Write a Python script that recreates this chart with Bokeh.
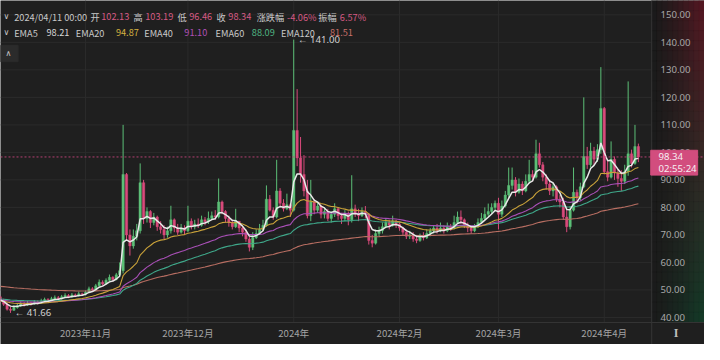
import pandas as pd
from bokeh.plotting import figure
from bokeh.models import Range1d
from bokeh.core.properties import value
from bokeh.embed import file_html
from bokeh.resources import INLINE

# ---------------- data ----------------
start_date = "2023-10-07"
end_date = "2024-04-11"

opens = [47.5, 46.0, 44.8, 43.0, 42.6, 43.6, 44.2, 45.0, 44.5, 45.3, 44.9, 45.6, 45.2, 46.0, 46.5, 46.1, 46.8, 47.2, 46.7, 47.5, 48.0, 47.4, 48.2, 47.8, 48.6,
         48.3, 49.2, 50.4, 50.0, 51.5, 52.8, 52.2, 53.5, 54.6, 53.8, 55.5,
         57.0, 92.0, 70.0, 66.0, 69.5, 71.5, 89.0, 76.0, 78.5, 74.5,
         76.5, 73.0, 72.0, 70.0, 71.5, 75.5, 72.5, 71.0, 72.5, 71.5,
         75.0, 73.0, 74.0, 73.5, 75.5, 74.8, 76.0, 77.0, 76.5, 82.0,
         78.5, 76.0, 74.5, 73.0, 75.0, 72.5, 71.0, 68.5, 65.5, 69.0,
         70.5, 72.0, 73.5, 83.0, 79.0, 76.5, 86.0, 81.5, 79.5, 81.0,
         79.0, 108.0, 98.0, 92.0, 86.0, 77.0, 82.0, 79.0, 80.5, 77.5,
         78.5, 76.0, 77.5, 79.5, 77.0, 76.0, 77.5, 75.5, 79.5, 78.0,
         77.0, 78.5, 77.5, 68.0, 67.0, 70.5, 71.5, 73.0, 74.5, 73.5,
         75.0, 74.0, 72.5, 71.0, 69.5, 70.0, 68.5, 68.0, 69.5, 69.0,
         70.5, 71.5, 72.5, 71.5, 72.5, 71.5, 73.0, 72.5, 74.5, 76.5,
         75.5, 73.5, 72.5, 71.5, 73.0, 74.5, 76.0, 77.5, 78.5, 80.0,
         81.5, 77.5, 80.5, 84.5, 88.0, 90.0, 85.5, 88.5, 86.0, 89.5,
         92.0, 91.0, 99.5, 95.5, 91.0, 88.5, 86.0, 87.5, 83.0, 82.0,
         76.5, 73.0, 79.0, 85.5, 83.5, 87.5, 98.5, 95.5, 100.5, 97.5,
         101.0, 116.0, 93.0, 91.0, 97.5, 92.5, 90.5, 89.5, 93.0, 99.5, 96.0, 102.13]

highs = [48.0, 46.8, 45.5, 43.8, 44.5, 45.0, 45.8, 45.6, 46.0, 45.8, 46.3, 46.2, 46.8, 47.2, 47.0, 47.5, 48.0, 47.8, 48.2, 48.8, 48.5, 48.9, 48.7, 49.4, 49.0,
         49.8, 51.2, 51.0, 52.2, 53.8, 53.5, 54.2, 55.6, 55.0, 56.2, 60.0,
         110.0, 92.5, 72.0, 72.0, 74.0, 96.0, 90.0, 80.0, 79.0, 78.0,
         77.0, 75.0, 73.5, 73.0, 80.6, 76.0, 74.0, 74.0, 73.5, 80.6,
         76.0, 75.5, 76.0, 77.0, 76.5, 78.5, 78.5, 79.0, 90.5, 82.5,
         79.0, 77.0, 75.5, 79.5, 75.0, 73.0, 72.0, 69.5, 71.0, 72.0,
         74.0, 75.5, 88.0, 84.5, 80.0, 97.3, 87.0, 83.0, 85.0, 81.5,
         141.0, 123.0, 105.6, 99.0, 90.0, 90.0, 83.0, 82.0, 81.0, 80.0,
         79.5, 78.5, 81.5, 80.0, 78.0, 79.0, 78.5, 91.7, 81.0, 79.5,
         80.0, 80.5, 78.0, 70.0, 72.0, 73.0, 74.5, 76.0, 75.5, 77.0,
         75.5, 74.5, 73.0, 72.0, 71.5, 71.0, 70.0, 70.5, 71.0, 72.0,
         72.5, 73.5, 74.0, 74.5, 73.5, 74.5, 74.0, 77.0, 78.5, 78.9,
         76.0, 74.5, 73.5, 74.0, 76.0, 78.0, 80.0, 81.4, 81.5, 82.5,
         83.5, 82.5, 86.0, 94.5, 94.5, 91.0, 90.5, 89.5, 92.0, 97.3,
         93.5, 104.6, 103.5, 96.5, 92.0, 90.0, 89.0, 88.0, 84.5, 83.5,
         80.0, 80.5, 94.5, 86.5, 89.0, 120.0, 102.0, 103.5, 102.0, 103.0,
         131.0, 116.5, 97.0, 104.0, 98.5, 94.0, 93.5, 95.5, 125.8, 101.0, 110.0, 103.19]

lows = [45.5, 44.2, 42.5, 41.66, 42.4, 43.2, 43.8, 44.0, 44.2, 44.3, 44.6, 44.7, 45.0, 45.6, 45.6, 46.0, 46.5, 46.2, 46.5, 47.1, 47.0, 47.2, 47.4, 47.6, 47.8,
        48.0, 49.0, 49.5, 49.8, 51.2, 51.6, 52.0, 53.2, 53.2, 53.5, 55.0,
        56.0, 68.0, 62.5, 65.0, 68.0, 70.5, 74.0, 74.5, 72.5, 73.5,
        71.5, 70.5, 68.5, 69.0, 70.5, 71.0, 70.0, 70.5, 70.0, 71.0,
        72.0, 72.0, 72.5, 73.0, 73.5, 74.0, 75.5, 75.5, 76.0, 77.5,
        74.5, 73.0, 72.0, 72.5, 71.0, 69.5, 67.5, 64.0, 64.5, 68.5,
        70.0, 71.5, 73.0, 78.5, 75.5, 76.0, 80.0, 78.5, 79.0, 76.5,
        78.5, 95.0, 89.0, 84.0, 76.0, 75.0, 77.5, 78.0, 76.0, 76.0,
        75.0, 74.5, 76.5, 75.5, 74.0, 75.0, 73.5, 74.5, 76.5, 75.0,
        76.5, 76.0, 66.5, 65.5, 66.5, 69.5, 70.5, 72.5, 72.0, 73.0,
        72.5, 71.5, 70.0, 68.5, 68.5, 67.5, 67.0, 67.5, 68.0, 68.5,
        69.5, 70.5, 70.5, 71.0, 70.5, 71.0, 71.5, 72.0, 74.0, 74.0,
        72.5, 71.0, 70.5, 71.0, 72.5, 74.0, 75.5, 76.5, 77.5, 78.5,
        72.0, 76.5, 80.0, 83.5, 86.5, 84.0, 85.0, 84.5, 85.5, 88.5,
        89.5, 90.5, 94.5, 89.5, 86.5, 84.5, 84.0, 82.0, 80.0, 75.5,
        71.0, 72.0, 78.5, 81.5, 82.5, 87.0, 94.0, 94.5, 95.5, 96.5,
        99.5, 92.0, 89.5, 90.5, 90.0, 87.5, 86.0, 88.5, 91.5, 94.5, 95.5, 96.46]

closes = [46.0, 44.8, 43.0, 42.6, 43.6, 44.2, 45.0, 44.5, 45.3, 44.9, 45.6, 45.2, 46.0, 46.5, 46.1, 46.8, 47.2, 46.7, 47.5, 48.0, 47.4, 48.2, 47.8, 48.6, 48.3,
          49.2, 50.4, 50.0, 51.5, 52.8, 52.2, 53.5, 54.6, 53.8, 55.5, 57.0,
          92.0, 70.0, 66.0, 69.5, 71.5, 89.0, 76.0, 78.5, 74.5, 76.5,
          73.0, 72.0, 70.0, 71.5, 75.5, 72.5, 71.0, 72.5, 71.5, 75.0,
          73.0, 74.0, 73.5, 75.5, 74.8, 76.0, 77.0, 76.5, 82.0, 78.5,
          76.0, 74.5, 73.0, 75.0, 72.5, 71.0, 68.5, 65.5, 69.0, 70.5,
          72.0, 73.5, 83.0, 79.0, 76.5, 86.0, 81.5, 79.5, 81.0, 79.0,
          108.0, 98.0, 92.0, 86.0, 77.0, 82.0, 79.0, 80.5, 77.5, 78.5,
          76.0, 77.5, 79.5, 77.0, 76.0, 77.5, 75.5, 79.5, 78.0, 77.0,
          78.5, 77.5, 68.0, 67.0, 70.5, 71.5, 73.0, 74.5, 73.5, 75.0,
          74.0, 72.5, 71.0, 69.5, 70.0, 68.5, 68.0, 69.5, 69.0, 70.5,
          71.5, 72.5, 71.5, 72.5, 71.5, 73.0, 72.5, 74.5, 76.5, 75.5,
          73.5, 72.5, 71.5, 73.0, 74.5, 76.0, 77.5, 78.5, 80.0, 81.5,
          77.5, 80.5, 84.5, 88.0, 90.0, 85.5, 88.5, 86.0, 89.5, 92.0,
          91.0, 99.5, 95.5, 91.0, 88.5, 86.0, 87.5, 83.0, 82.0, 76.5,
          73.0, 79.0, 85.5, 83.5, 87.5, 98.5, 95.5, 100.5, 97.5, 101.0,
          116.0, 93.0, 91.0, 97.5, 92.5, 90.5, 89.5, 93.0, 99.5, 96.0, 102.13, 98.34]

ema_periods = [5, 20, 40, 60, 120]
ema_seeds = [46.5, 46.0, 46.3, 46.7, 51.4]          # EMA levels at the left edge
ema_names = ["EMA5", "EMA20", "EMA40", "EMA60", "EMA120"]
ema_values_shown = ["98.21", "94.87", "91.10", "88.09", "81.51"]

month_ticks = ["2023-11-01", "2023-12-01", "2024-01-01", "2024-02-01", "2024-03-01", "2024-04-01"]
month_labels = ["2023年11月", "2023年12月", "2024年", "2024年2月", "2024年3月", "2024年4月"]
price_ticks = [40, 50, 60, 70, 80, 90, 100, 110, 120, 130, 140, 150]

hdr_labels = ["2024/04/11 00:00", "开", "102.13", "高", "103.19", "低", "96.46", "收", "98.34",
              "涨跌幅", "-4.06%", "振幅", "6.57%"]
countdown = "02:55:24"

# ---------------- styling / layout ----------------
BG = "#1f1f1f"
GRID = "#2b2b2b"
UP = "#5cbf77"
DOWN = "#d94a7b"
TXT = "#c9c9c9"
PINK_TXT = "#d65a84"
EMA_LINE = ["#e9e9e9", "#c9a23a", "#a84fb6", "#3fa88a", "#b86e62"]
EMA_TXT = ["#d8d8d8", "#d4b040", "#b050b8", "#4fb482", "#c8706a"]
FONT = "Noto Sans CJK SC"
LFONT = "Noto Sans"

W, H = 704, 344

# layout helpers in reference pixels (Nov 1 at px 87, 3.49 px/day; 40 at px 331.7, 2.879 px/unit)
def dx(px):
    return (px - 87.0) / 3.49

def py(px):
    return 40.0 + (331.7 - px) / 2.879

X0, X1 = dx(0), dx(720)
Y0, Y1 = py(360), py(0)

ref_day = pd.Timestamp("2023-11-01")
dates = pd.date_range(start_date, end_date, freq="D")
xd = [(d - ref_day).days for d in dates]
tick_days = [(pd.Timestamp(t) - ref_day).days for t in month_ticks]

def ema(vals, n, seed):
    a = 2.0 / (n + 1)
    e = seed
    out = []
    for v in vals:
        e = e + a * (v - e)
        out.append(e)
    return out

p = figure(width=W, height=H, x_range=Range1d(X0, X1), y_range=Range1d(Y0, Y1),
           x_axis_location=None, y_axis_location=None, output_backend="svg", toolbar_location=None,
           min_border_left=0, min_border_right=0, min_border_top=0, min_border_bottom=0,
           background_fill_color=BG, border_fill_color=BG, outline_line_color=None)
p.grid.visible = False

panel_l = dx(666)
plot_bottom = py(337)

# grid lines
p.segment(x0=tick_days, y0=[plot_bottom] * len(tick_days), x1=tick_days, y1=[Y1] * len(tick_days),
          line_color=GRID, line_width=1)
p.segment(x0=[X0] * len(price_ticks), y0=price_ticks, x1=[panel_l] * len(price_ticks), y1=price_ticks,
          line_color=GRID, line_width=1)

# candles
up_x, up_o, up_h, up_l, up_c = [], [], [], [], []
dn_x, dn_o, dn_h, dn_l, dn_c = [], [], [], [], []
for x, o, h, l, c in zip(xd, opens, highs, lows, closes):
    h2, l2 = max(h, o, c), min(l, o, c)
    if c >= o:
        up_x.append(x); up_o.append(o); up_h.append(h2); up_l.append(l2); up_c.append(c)
    else:
        dn_x.append(x); dn_o.append(o); dn_h.append(h2); dn_l.append(l2); dn_c.append(c)

p.segment(x0=up_x, y0=up_l, x1=up_x, y1=up_h, line_color=UP, line_width=1)
p.segment(x0=dn_x, y0=dn_l, x1=dn_x, y1=dn_h, line_color=DOWN, line_width=1)
p.vbar(x=up_x, width=0.7, bottom=up_o, top=up_c, fill_color=UP, line_color=UP, line_width=0.4)
p.vbar(x=dn_x, width=0.7, bottom=dn_c, top=dn_o, fill_color=DOWN, line_color=DOWN, line_width=0.4)

# EMA lines (longest first so EMA5 is on top)
for n, seed, col in reversed(list(zip(ema_periods, ema_seeds, EMA_LINE))):
    p.line(xd, ema(closes, n, seed), line_color=col, line_width=1.5 if n == 5 else 1.1)

# right price panel (gradient background)
ncol, nrow = 10, 32
qx0, qx1, qy0, qy1, qc = [], [], [], [], []
for ci in range(ncol):
    s = (ci + 0.5) / ncol
    for ri in range(nrow):
        t = (ri + 0.5) / nrow  # 0 top -> 1 bottom
        tint = [(1 - t) * 62 + t * (-8), (1 - t) * (-4) + t * 34, (1 - t) * 8 + t * 14]
        k = s ** 1.4
        rgb = [int(max(0, min(255, 27 + k * v))) for v in tint]
        qx0.append(panel_l + (X1 - panel_l) * ci / ncol)
        qx1.append(panel_l + (X1 - panel_l) * (ci + 1) / ncol)
        qy1.append(Y1 - (Y1 - plot_bottom) * ri / nrow)
        qy0.append(Y1 - (Y1 - plot_bottom) * (ri + 1) / nrow)
        qc.append("#%02x%02x%02x" % tuple(rgb))
p.quad(left=qx0, right=qx1, bottom=qy0, top=qy1, fill_color=qc, line_color=qc, line_width=0.5)

# separators: panel divider and bottom axis line
p.segment(x0=[panel_l], y0=[Y0], x1=[panel_l], y1=[Y1], line_color="#353535", line_width=1)
p.segment(x0=[X0], y0=[plot_bottom], x1=[X1], y1=[plot_bottom], line_color="#353535", line_width=1)

# y labels in the panel
p.text(x=[dx(675)] * len(price_ticks), y=price_ticks, text=["%.2f" % v for v in price_ticks],
       text_font=value(LFONT), text_font_size=value("9.6px"), text_color="#a8a8a8",
       text_align="left", text_baseline="middle")

# x labels (month starts)
p.text(x=tick_days, y=[py(348)] * len(tick_days), text=month_labels,
       text_font=value(FONT), text_font_size=value("9.6px"), text_color="#a3a3a3",
       text_align="center", text_baseline="middle")
# cursor icon bottom-right
p.text(x=[dx(691)], y=[py(348)], text=["I"], text_font=value("Liberation Serif"), text_font_style="bold",
       text_font_size=value("12px"), text_color="#bdbdbd", text_align="center", text_baseline="middle")

# last price line and box
last = closes[-1]
p.segment(x0=[X0], y0=[last], x1=[X1], y1=[last], line_color="#c4457a", line_width=1, line_dash="2 2", line_alpha=0.9)
p.quad(left=[dx(665)], right=[dx(713)], bottom=[last - 19 / 2.879], top=[last + 7 / 2.879],
       fill_color="#d24d7e", line_color="#d24d7e")
p.text(x=[dx(673), dx(673)], y=[last, last - 12 / 2.879], text=["%.2f" % last, countdown],
       text_font=value(LFONT), text_font_size=value("9.6px"), text_color="#f6eef2",
       text_align="left", text_baseline="middle")

# extreme labels
imax = max(range(len(highs)), key=lambda i: highs[i])
imin = min(range(len(lows)), key=lambda i: lows[i])
p.text(x=[xd[imax] + 4.3 / 3.49, xd[imin] + 4.3 / 3.49], y=[highs[imax], lows[imin]],
       text=["← %.2f" % highs[imax], "← %.2f" % lows[imin]],
       text_font=value(LFONT), text_font_size=value("9.6px"), text_color="#d2d2d2",
       text_align="left", text_baseline="middle")

# header line 1
h1_x = [14, 92, 103, 136, 148, 181, 193, 221, 233, 262, 293, 325, 347]
h1_c = [TXT, TXT, PINK_TXT, TXT, PINK_TXT, TXT, PINK_TXT, TXT, PINK_TXT, TXT, PINK_TXT, TXT, PINK_TXT]
p.text(x=[dx(v) for v in h1_x], y=[py(17)] * len(h1_x), text=hdr_labels,
       text_font=value(FONT), text_font_size=value("9.2px"), text_color=h1_c,
       text_align="left", text_baseline="middle")
# header line 2 (EMA legend)
h2_name_x = [14, 77, 147, 220, 287]
h2_val_x = [47, 118, 188, 257, 337]
p.text(x=[dx(v) for v in h2_name_x], y=[py(34)] * 5, text=ema_names,
       text_font=value(FONT), text_font_size=value("9.2px"), text_color=TXT,
       text_align="left", text_baseline="middle")
p.text(x=[dx(v) for v in h2_val_x], y=[py(34)] * 5, text=ema_values_shown,
       text_font=value(FONT), text_font_size=value("9.2px"), text_color=EMA_TXT,
       text_align="left", text_baseline="middle")
# chevrons and collapse button
p.text(x=[dx(6), dx(6)], y=[py(17), py(34)], text=["∨", "∨"],
       text_font=value("DejaVu Sans"), text_font_size=value("8px"), text_color=TXT,
       text_align="center", text_baseline="middle")
p.quad(left=[dx(0)], right=[dx(18)], bottom=[py(64)], top=[py(47)], fill_color="#2b2b2b", line_color="#2b2b2b")
p.text(x=[dx(8)], y=[py(55.5)], text=["∧"], text_font=value("DejaVu Sans"), text_font_size=value("8px"),
       text_color=TXT, text_align="center", text_baseline="middle")

open("out.html", "w").write(file_html(p, INLINE))
